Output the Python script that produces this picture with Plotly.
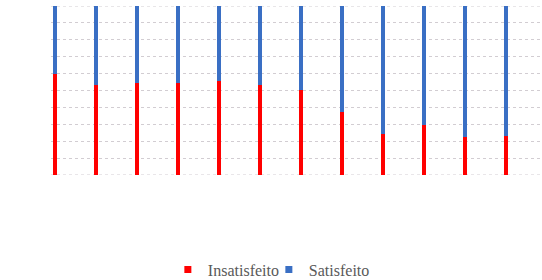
import plotly.graph_objects as go

categories = ["1", "2", "3", "4", "5", "6", "7", "8", "9", "10", "11", "12"]
insatisfeito = [60.0, 53.3, 54.3, 54.3, 55.4, 53.3, 50.3, 37.5, 24.3, 29.6, 22.5, 23.1]
satisfeito = [round(100 - v, 1) for v in insatisfeito]
series_names = ["Insatisfeito", "Satisfeito"]
series_colors = ["#FF0000", "#3A6FC4"]

x_idx = list(range(len(categories)))

fig = go.Figure()
for name, vals, col in zip(series_names, [insatisfeito, satisfeito], series_colors):
    fig.add_trace(go.Bar(x=x_idx, y=vals, name=name, showlegend=False,
                         marker=dict(color=col, line=dict(width=0)), width=0.1))
for name, col in zip(series_names, series_colors):
    fig.add_trace(go.Scatter(x=[None], y=[None], mode="markers", name=name,
                             marker=dict(symbol="square", size=7, color=col)))

# plot frame lines at 0 and 100 (gridlines at the edges)
for yv in [0, 100]:
    fig.add_shape(type="line", xref="paper", yref="y", x0=0, x1=1, y0=yv, y1=yv,
                  line=dict(color="#D2CDD2", width=1, dash="dot"), layer="below")

fig.update_layout(
    barmode="stack",
    width=542, height=280,
    margin=dict(l=51, r=0, t=6, b=105, autoexpand=False),
    plot_bgcolor="white", paper_bgcolor="white",
    showlegend=True,
    legend=dict(orientation="h", x=0.238, xanchor="left", y=-0.56, yanchor="middle",
                font=dict(family="Liberation Serif", size=16, color="#595959"),
                itemwidth=30, itemsizing="trace", entrywidth=56, traceorder="normal"),
    xaxis=dict(range=[-0.0976, 11.878], showticklabels=False, showgrid=False,
               zeroline=False, showline=False, ticks=""),
    yaxis=dict(range=[0, 100], dtick=10, showticklabels=False, showgrid=True,
               gridcolor="#D2CDD2", griddash="dot", gridwidth=1,
               zeroline=False, showline=False, ticks=""),
)

fig.write_html("out.html", config={"displayModeBar": False},
               post_script="document.body.style.margin='0px';")
